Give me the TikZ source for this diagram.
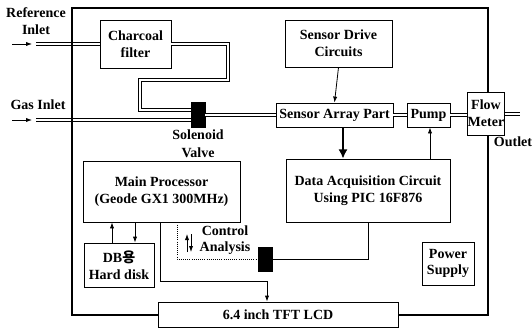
\documentclass[tikz,border=0pt]{standalone}
\usepackage{fontspec}
\setmainfont{Liberation Serif}
\newfontfamily\krfont{Noto Sans CJK KR}
\usetikzlibrary{arrows.meta}

\begin{document}
\begin{tikzpicture}[x=0.75pt,y=0.75pt,yscale=-1,xscale=1,
  box/.style={draw, line width=0.6pt, inner sep=0pt, align=center, font=\fontsize{10.5}{12.5}\selectfont\bfseries},
  lbl/.style={inner sep=0.75pt, align=center, font=\fontsize{10.5}{12.5}\selectfont\bfseries},
  valve/.style={draw, fill=black, inner sep=0pt, minimum width=10.5pt, minimum height=18.5pt},
  pipe/.style={line width=0.5pt, double=white, double distance=2.2pt},
  sig/.style={line width=0.6pt, -{Latex[length=4.5pt,width=3.2pt]}},
  bigsig/.style={line width=1.4pt, -{Latex[length=7pt,width=7pt]}},
  frame/.style={line width=1.5pt}]
\useasboundingbox (0,0) rectangle (532,332);

%Shape: Rectangle
\node [box, minimum width=53.25pt, minimum height=36pt] (char) at (135.5,44) {Charcoal\\filter};
\node [box, minimum width=80.25pt, minimum height=35.25pt] (sdc) at (338.5,43.5) {Sensor Drive\\Circuits};
\node [box, minimum width=87.75pt, minimum height=18pt] (sap) at (334.5,115) {Sensor Array Part};
\node [box, minimum width=32.25pt, minimum height=18pt] (pump) at (428.5,115) {Pump};
\node [box, minimum width=27pt, minimum height=32.25pt] (flow) at (486,113.5) {Flow\\Meter};
\node [box, minimum width=123pt, minimum height=47.25pt] (daq) at (368,190.5) {Data Acquisition Circuit\\Using PIC 16F876};
\node [box, minimum width=117.75pt, minimum height=45.75pt] (mp) at (161.5,191.5) {Main Processor\\(Geode GX1 300MHz)};
\node [box, minimum width=52.5pt, minimum height=33pt] (hdd) at (119,265) {DB{\krfont 용}\\Hard disk};
\node [box, minimum width=39pt, minimum height=32.25pt] (pwr) at (448,263.5) {Power\\Supply};
\node [box, fill=white, minimum width=180pt, minimum height=18.75pt] (lcd) at (278,314.5) {6.4 inch TFT LCD};
%Shape: Valves
\node [valve] (sv) at (198,115) {};
\node [valve, minimum height=18pt] (cv) at (265,259) {};

% Text Node
\node [lbl] (refin) at (36,21) {Reference\\Inlet};
\node [lbl] (gasin) at (38,105) {Gas Inlet};
\node [lbl, font=\fontsize{10.5}{13.5}\selectfont\bfseries] (svlbl) at (198,144) {Solenoid\\Valve};
\node [lbl] (outlbl) at (513,142) {Outlet};
\node [lbl] (ctrl) at (225,240) {Control\\Analysis};

%Coordinates
\coordinate (ra1) at (12,44);
\coordinate (ra2) at (32,44);
\coordinate (rp) at (36,44);
\coordinate (ga1) at (12,120);
\coordinate (ga2) at (32,120);
\coordinate (gp) at (36,120);
\coordinate (op) at (520,114);
\coordinate (cu1) at (187,252);
\coordinate (cu2) at (187,234);
\coordinate (cd1) at (191,234);
\coordinate (cd2) at (191,252);

%Pipes
\draw [pipe] (rp) -- (char.west |- rp);
\draw [pipe] (char.east) -| (228,80) -| (140,110) -- (sv.west |- 0,110);
\draw [pipe] (gp) -- (sv.west |- gp);
\draw [pipe] (sv.east) -- (sap.west);
\draw [pipe] (sap.east) -- (pump.west);
\draw [pipe] (pump.east) -- (flow.west |- pump.east);
\draw [pipe] (flow.east |- op) -- (op);

%Straight Lines
\draw [sig] (ra1) -- (ra2);
\draw [sig] (ga1) -- (ga2);
\draw [sig] (sdc.south) -- (sap.north);
\draw [bigsig] (sap.south -| 343,0) -- (daq.north -| 343,0);
\draw [sig] (daq.north -| 430,0) -- (pump.south -| 430,0);
\draw [line width=0.6pt] (daq.south) |- (cv.east);
\draw [line width=0.6pt, densely dotted] (mp.south -| 177,0) |- (cv.west);
\draw [sig] (mp.south -| 160,0) |- (267,281) -- (lcd.north -| 267,0);
\draw [sig] (hdd.north -| 112,0) -- (mp.south -| 112,0);
\draw [sig] (mp.south -| 135,0) -- (hdd.north -| 135,0);
\draw [sig] (cu1) -- (cu2);
\draw [sig] (cd1) -- (cd2);

%Frame
\draw [frame] (lcd.west) -| (72,8) -| (flow.north -| 488,0);
\draw [frame] (flow.south -| 488,0) |- (lcd.east);

\end{tikzpicture}
\end{document}
